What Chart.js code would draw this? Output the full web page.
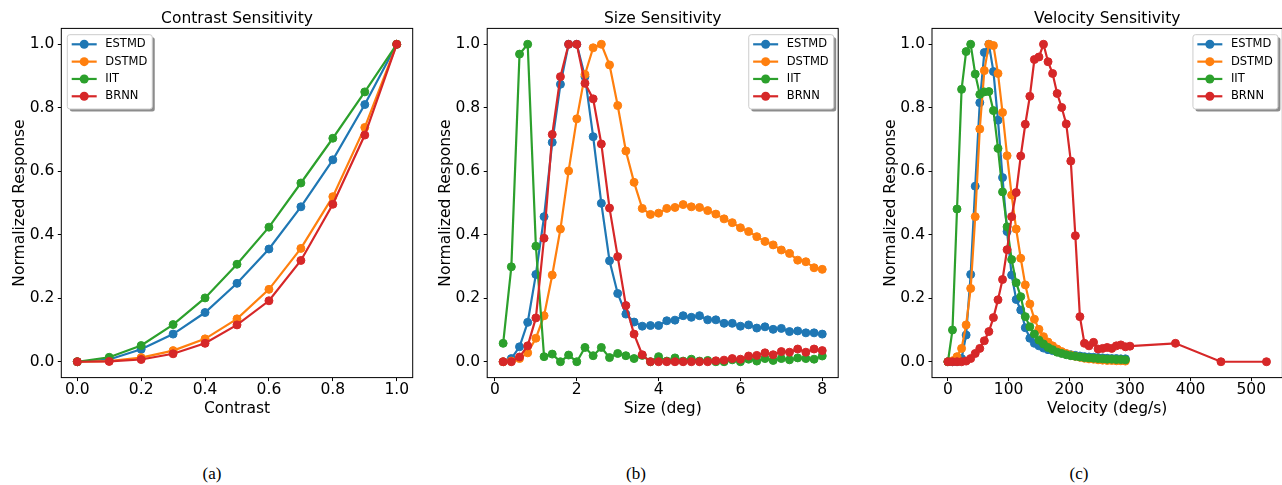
<!DOCTYPE html>
<html>
<head>
<meta charset="utf-8">
<title>Contrast, size and velocity sensitivity</title>
<script src="https://cdn.jsdelivr.net/npm/chart.js@4.4.0/dist/chart.umd.min.js"></script>
<style>
  html, body { margin: 0; padding: 0; background: #fff; overflow: hidden; }
  #figure { position: relative; width: 1282px; height: 485px; overflow: hidden; background: #fff; }
  #figure canvas { position: absolute; top: 0; }
  .caption {
    position: absolute; top: 464px; width: 60px; margin-left: -30px;
    text-align: center; line-height: 20px;
    font: 17px "Liberation Serif", "Times New Roman", serif; color: #000;
  }
</style>
</head>
<body>
<div id="figure">
  <canvas id="contrastChart"></canvas>
  <canvas id="sizeChart"></canvas>
  <canvas id="velocityChart"></canvas>
  <div class="caption" style="left:212px">(a)</div>
  <div class="caption" style="left:636px">(b)</div>
  <div class="caption" style="left:1079px">(c)</div>
</div>
<script>
// ---- data ----
const modelNames = ['ESTMD', 'DSTMD', 'IIT', 'BRNN'];
const modelColors = ['#1f77b4', '#ff7f0e', '#2ca02c', '#d62728'];

// (a) contrast
const contrastLevels = [0.0, 0.1, 0.2, 0.3, 0.4, 0.5, 0.6, 0.7, 0.8, 0.9, 1.0];
const contrastEstmd = [0.0, 0.007, 0.039, 0.087, 0.155, 0.247, 0.355, 0.488, 0.636, 0.81, 1.0];
const contrastDstmd = [0.0, 0.002, 0.013, 0.035, 0.072, 0.135, 0.228, 0.357, 0.52, 0.738, 1.0];
const contrastIit   = [0.0, 0.014, 0.051, 0.117, 0.201, 0.307, 0.424, 0.563, 0.704, 0.85, 1.0];
const contrastBrnn  = [0.0, 0.001, 0.007, 0.025, 0.058, 0.116, 0.192, 0.319, 0.496, 0.714, 1.0];

// (b) size
const sizeDegrees = [0.2, 0.4, 0.6, 0.8, 1.0, 1.2, 1.4, 1.6, 1.8, 2.0,
                     2.2, 2.4, 2.6, 2.8, 3.0, 3.2, 3.4, 3.6, 3.8, 4.0,
                     4.2, 4.4, 4.6, 4.8, 5.0, 5.2, 5.4, 5.6, 5.8, 6.0,
                     6.2, 6.4, 6.6, 6.8, 7.0, 7.2, 7.4, 7.6, 7.8, 8.0];
const sizeEstmd = [0.0, 0.01, 0.047, 0.124, 0.275, 0.457, 0.691, 0.874, 1.0, 1.0,
                   0.898, 0.709, 0.499, 0.318, 0.215, 0.15, 0.125, 0.112, 0.114, 0.114,
                   0.129, 0.131, 0.145, 0.14, 0.145, 0.132, 0.132, 0.121, 0.121, 0.112,
                   0.116, 0.106, 0.11, 0.102, 0.105, 0.095, 0.097, 0.091, 0.091, 0.087];
const sizeDstmd = [0.0, 0.002, 0.01, 0.028, 0.074, 0.145, 0.273, 0.418, 0.601, 0.765,
                   0.905, 0.989, 1.0, 0.935, 0.807, 0.664, 0.565, 0.483, 0.464, 0.468,
                   0.483, 0.486, 0.495, 0.488, 0.486, 0.476, 0.465, 0.45, 0.438, 0.422,
                   0.41, 0.394, 0.379, 0.368, 0.352, 0.341, 0.32, 0.315, 0.296, 0.291];
const sizeIit   = [0.058, 0.299, 0.969, 1.0, 0.364, 0.016, 0.024, 0.0, 0.021, 0.0,
                   0.045, 0.019, 0.045, 0.013, 0.026, 0.019, 0.01, 0.02, 0.0, 0.016,
                   0.002, 0.012, 0.002, 0.008, 0.002, 0.004, 0.0, 0.0, 0.006, 0.0,
                   0.008, 0.002, 0.01, 0.004, 0.01, 0.006, 0.012, 0.01, 0.008, 0.018];
const sizeBrnn  = [0.0, 0.0, 0.015, 0.05, 0.138, 0.389, 0.716, 0.898, 1.0, 1.0,
                   0.877, 0.828, 0.686, 0.484, 0.331, 0.177, 0.087, 0.022, 0.0, 0.0,
                   0.0, 0.0, 0.0, 0.0, 0.0, 0.0, 0.003, 0.005, 0.01, 0.008,
                   0.018, 0.02, 0.028, 0.022, 0.032, 0.03, 0.04, 0.03, 0.04, 0.035];

// (c) velocity
const velocitySteps = [0, 7.5, 15, 22.5, 30, 37.5, 45, 52.5, 60, 67.5,
                       75, 82.5, 90, 97.5, 105, 112.5, 120, 127.5, 135, 142.5,
                       150, 157.5, 165, 172.5, 180, 187.5, 195, 202.5, 210, 217.5,
                       225, 232.5, 240, 247.5, 255, 262.5, 270, 277.5, 285, 292.5];
const velocityStepsBrnn = [0, 7.5, 15, 22.5, 30, 37.5, 45, 52.5, 60, 67.5,
                           75, 82.5, 90, 97.5, 105, 112.5, 120, 127.5, 135, 142.5,
                           150, 157.5, 165, 172.5, 180, 187.5, 195, 202.5, 210, 217.5,
                           225, 232.5, 240, 247.5, 255, 262.5, 270, 277.5, 285, 292.5,
                           300, 375, 450, 525];
const velocityEstmd = [0.0, 0.0, 0.0, 0.01, 0.084, 0.275, 0.553, 0.816, 0.974, 1.0,
                       0.914, 0.761, 0.58, 0.41, 0.273, 0.196, 0.163, 0.107, 0.074, 0.058,
                       0.05, 0.043, 0.038, 0.035, 0.032, 0.028, 0.025, 0.022, 0.02, 0.018,
                       0.016, 0.015, 0.014, 0.013, 0.012, 0.011, 0.01, 0.01, 0.009, 0.009];
const velocityDstmd = [0.0, 0.003, 0.016, 0.042, 0.116, 0.231, 0.457, 0.733, 0.917, 1.0,
                       0.996, 0.908, 0.785, 0.649, 0.525, 0.418, 0.326, 0.242, 0.182, 0.134,
                       0.102, 0.079, 0.062, 0.05, 0.04, 0.032, 0.026, 0.021, 0.017, 0.014,
                       0.011, 0.009, 0.008, 0.006, 0.005, 0.004, 0.004, 0.003, 0.003, 0.002];
const velocityIit   = [0.0, 0.1, 0.481, 0.858, 0.977, 1.0, 0.906, 0.842, 0.85, 0.851,
                       0.791, 0.672, 0.535, 0.425, 0.322, 0.249, 0.205, 0.142, 0.11, 0.087,
                       0.068, 0.056, 0.045, 0.038, 0.03, 0.026, 0.022, 0.019, 0.017, 0.015,
                       0.013, 0.012, 0.011, 0.01, 0.009, 0.008, 0.008, 0.007, 0.007, 0.006];
const velocityBrnn  = [0.0, 0.0, 0.0, 0.0, 0.002, 0.01, 0.026, 0.042, 0.066, 0.095,
                       0.139, 0.195, 0.259, 0.353, 0.457, 0.533, 0.648, 0.748, 0.836, 0.952,
                       0.96, 1.0, 0.945, 0.908, 0.845, 0.801, 0.749, 0.632, 0.397, 0.142,
                       0.058, 0.05, 0.061, 0.04, 0.042, 0.045, 0.042, 0.05, 0.053, 0.047,
                       0.049, 0.058, 0.0, 0.0];

// ---- ticks ----
const responseTicks = [0.0, 0.2, 0.4, 0.6, 0.8, 1.0];
const contrastTicks = [0.0, 0.2, 0.4, 0.6, 0.8, 1.0];
const sizeTicks = [0, 2, 4, 6, 8];
const velocityTicks = [0, 100, 200, 300, 400, 500];

// ---- layout ----
const CANVAS_H = 430;
const AREA_TOP = 28.4;
const AREA_BOTTOM = 377.6;
const FONT_SIZE = 15.5;
const LINE_H = FONT_SIZE * 1.2;

Chart.defaults.font.family = "'DejaVu Sans', sans-serif";
Chart.defaults.color = '#000';

// black box round the plot area, drawn over the lines like matplotlib spines
const axesFrame = {
  id: 'axesFrame',
  afterDatasetsDraw(chart) {
    const { ctx, chartArea: a } = chart;
    ctx.save();
    ctx.strokeStyle = '#000';
    ctx.lineWidth = 1;
    ctx.strokeRect(a.left, a.top, a.right - a.left, a.bottom - a.top);
    ctx.restore();
  }
};

// legend box with drop shadow, placed inside the plot area
const boxLegend = {
  id: 'boxLegend',
  afterDraw(chart, args, opts) {
    const { ctx, chartArea: a } = chart;
    const sets = chart.data.datasets;
    ctx.save();
    ctx.font = "11.5px 'DejaVu Sans', sans-serif";
    const textW = Math.max(...sets.map(d => ctx.measureText(d.label).width));
    const w = 38 + textW + 5;
    const h = 74.3;
    const x = opts.align === 'right' ? a.right - 4.5 - w : a.left + 6;
    const y = a.top + 6.3;

    ctx.fillStyle = 'rgba(0,0,0,0.45)';
    ctx.beginPath();
    ctx.roundRect(x + 2.5, y + 2.5, w, h, 2.5);
    ctx.fill();

    ctx.fillStyle = '#fff';
    ctx.strokeStyle = '#cccccc';
    ctx.lineWidth = 1;
    ctx.beginPath();
    ctx.roundRect(x, y, w, h, 2.5);
    ctx.fill();
    ctx.stroke();

    sets.forEach((d, i) => {
      const cy = y + 9.6 + i * 17.33;
      ctx.strokeStyle = d.borderColor;
      ctx.lineWidth = 2.2;
      ctx.beginPath();
      ctx.moveTo(x + 4.4, cy);
      ctx.lineTo(x + 29.4, cy);
      ctx.stroke();
      ctx.fillStyle = d.borderColor;
      ctx.beginPath();
      ctx.arc(x + 16.9, cy, 4.5, 0, Math.PI * 2);
      ctx.fill();
      ctx.fillStyle = '#000';
      ctx.textBaseline = 'middle';
      ctx.textAlign = 'left';
      ctx.fillText(d.label, x + 38, cy);
    });
    ctx.restore();
  }
};

function buildChart(p) {
  const canvas = document.getElementById(p.canvasId);
  const canvasLeft = Math.floor(p.frameLeft - 60);
  const yAxisW = p.frameLeft - canvasLeft;
  const width = Math.ceil(yAxisW + p.frameWidth + 6);
  const padRight = width - yAxisW - p.frameWidth;
  canvas.width = width;
  canvas.height = CANVAS_H;
  canvas.style.left = canvasLeft + 'px';
  canvas.style.width = width + 'px';
  canvas.style.height = CANVAS_H + 'px';

  const tickGrid = {
    drawOnChartArea: false, drawTicks: true,
    tickLength: 3.5, tickColor: '#000', tickWidth: 1
  };

  return new Chart(canvas.getContext('2d'), {
    type: 'line',
    data: {
      datasets: p.series.map((s, i) => ({
        label: modelNames[i],
        data: s.x.map((x, j) => ({ x: x, y: s.y[j] })),
        borderColor: modelColors[i],
        backgroundColor: modelColors[i],
        pointBackgroundColor: modelColors[i],
        pointBorderColor: modelColors[i],
        borderWidth: 2.2,
        pointRadius: 4,
        pointBorderWidth: 1,
        tension: 0,
        fill: false,
        order: p.series.length - i
      }))
    },
    options: {
      responsive: false,
      animation: false,
      devicePixelRatio: 1,
      events: [],
      layout: { padding: { left: 0, top: 0, bottom: 0, right: padRight } },
      plugins: {
        legend: { display: false },
        tooltip: { enabled: false },
        title: {
          display: true, text: p.title, color: '#000', fullSize: false,
          font: { size: FONT_SIZE, weight: 'normal', lineHeight: 1.2 },
          padding: { top: AREA_TOP - LINE_H, bottom: 0 }
        },
        boxLegend: { align: p.legendAlign }
      },
      scales: {
        x: {
          type: 'linear', min: p.xMin, max: p.xMax,
          afterBuildTicks: s => { s.ticks = p.xTicks.map(v => ({ value: v })); },
          afterFit: s => { s.height = CANVAS_H - AREA_BOTTOM; },
          ticks: {
            color: '#000', font: { size: FONT_SIZE, lineHeight: 1.2 }, padding: 0,
            autoSkip: false, maxRotation: 0, minRotation: 0,
            callback: p.xFormat
          },
          grid: tickGrid,
          border: { display: false },
          title: {
            display: true, text: p.xLabel, color: '#000',
            font: { size: FONT_SIZE, lineHeight: 1.2 },
            padding: { top: 0, bottom: CANVAS_H - 409 - LINE_H / 2 }
          }
        },
        y: {
          type: 'linear', min: -0.05, max: 1.05,
          afterBuildTicks: s => { s.ticks = responseTicks.map(v => ({ value: v })); },
          afterFit: s => { s.width = yAxisW; },
          ticks: {
            color: '#000', font: { size: FONT_SIZE, lineHeight: 1.2 }, padding: 3.5,
            autoSkip: false, callback: v => v.toFixed(1)
          },
          grid: tickGrid,
          border: { display: false },
          title: {
            display: true, text: 'Normalized Response', color: '#000',
            font: { size: FONT_SIZE, lineHeight: 1.2 },
            padding: { top: yAxisW - 41.5 - LINE_H / 2, bottom: 0 }
          }
        }
      }
    },
    plugins: [axesFrame, boxLegend]
  });
}

document.addEventListener('DOMContentLoaded', function () {
  buildChart({
    canvasId: 'contrastChart', frameLeft: 61.3, frameWidth: 351.4,
    title: 'Contrast Sensitivity', xLabel: 'Contrast',
    xMin: -0.05, xMax: 1.05, xTicks: contrastTicks, xFormat: v => v.toFixed(1),
    legendAlign: 'left',
    series: [
      { x: contrastLevels, y: contrastEstmd },
      { x: contrastLevels, y: contrastDstmd },
      { x: contrastLevels, y: contrastIit },
      { x: contrastLevels, y: contrastBrnn }
    ]
  });

  buildChart({
    canvasId: 'sizeChart', frameLeft: 487.2, frameWidth: 351,
    title: 'Size Sensitivity', xLabel: 'Size (deg)',
    xMin: -0.19, xMax: 8.39, xTicks: sizeTicks, xFormat: v => String(v),
    legendAlign: 'right',
    series: [
      { x: sizeDegrees, y: sizeEstmd },
      { x: sizeDegrees, y: sizeDstmd },
      { x: sizeDegrees, y: sizeIit },
      { x: sizeDegrees, y: sizeBrnn }
    ]
  });

  buildChart({
    canvasId: 'velocityChart', frameLeft: 932.0, frameWidth: 350.4,
    title: 'Velocity Sensitivity', xLabel: 'Velocity (deg/s)',
    xMin: -26.25, xMax: 551.25, xTicks: velocityTicks, xFormat: v => String(v),
    legendAlign: 'right',
    series: [
      { x: velocitySteps, y: velocityEstmd },
      { x: velocitySteps, y: velocityDstmd },
      { x: velocitySteps, y: velocityIit },
      { x: velocityStepsBrnn, y: velocityBrnn }
    ]
  });
});
</script>
</body>
</html>
